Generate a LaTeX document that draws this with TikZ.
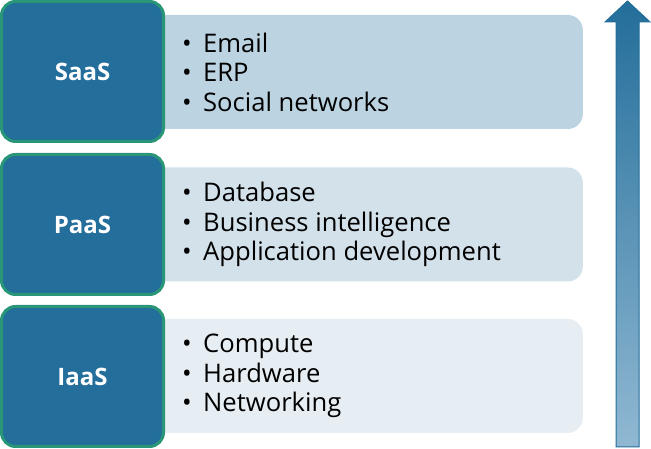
\documentclass[tikz,border=0pt]{standalone}
\usepackage{fontspec}
\setmainfont{Open Sans}
\usepackage{tikz}
\usetikzlibrary{positioning,shapes}
\definecolor{layerblue}{HTML}{236E9A}
\definecolor{layergreen}{HTML}{2A9678}
\definecolor{saasband}{HTML}{BCD3E1}
\definecolor{paasband}{HTML}{D2E1EA}
\definecolor{iaasband}{HTML}{E6EEF3}
\definecolor{arrowtop}{HTML}{236E9A}
\definecolor{arrowmid}{HTML}{3C7FAC}
\definecolor{arrowbottom}{HTML}{90B8D2}
\tikzset {
    style layer/.style={
        fill=layerblue,
        draw=layergreen,
        line width=3pt,
        text=white,
        rectangle, % Set the shape as a rectangle
        rounded corners=14pt,
        minimum width=162pt,
        minimum height=140pt,
        align=center,
        font=\bfseries\fontsize{24}{28}\selectfont,
    },
    style band/.style={
        draw=none,
        rectangle, % Set the shape as a rectangle
        rounded corners=15pt,
        minimum width=433pt,
        minimum height=114pt,
        anchor=east,
    },
    style items/.style={
        anchor=west,
        inner sep=0pt,
        align=left,
        text=black,
        font=\fontsize{25.6}{29.5}\selectfont,
    },
}
\newcommand{\bitem}{\makebox[21pt][l]{\textbullet}}

\begin{document}
\begin{tikzpicture}[x=1pt,y=1pt]
        \useasboundingbox (0,0) rectangle (651,449);

        % light bands behind the layers
        \node[style band, fill=saasband] (saasb) at (583,377) {};
        \node[style band, fill=paasband] (paasb) at (583,224.5) {};
        \node[style band, fill=iaasband] (iaasb) at (583,73) {};

        % layers
        \node[style layer] (saas) at (82.5,377.5) {SaaS};
        \node[style layer] (paas) at (82.5,224.5) {PaaS};
        \node[style layer] (iaas) at (82.5,72.5) {IaaS};

        % items
        \node[style items] (saasi) at (182,377) {\bitem Email\\\bitem ERP\\\bitem Social networks};
        \node[style items] (paasi) at (182,224.5) {\bitem Database\\\bitem Business intelligence\\\bitem Application development};
        \node[style items] (iaasi) at (182,73) {\bitem Compute\\\bitem Hardware\\\bitem Networking};

        % stack arrow
        \path[draw=layerblue, line width=1pt, top color=arrowtop, middle color=arrowmid, bottom color=arrowbottom]
            (616,2) -- (616,427) -- (605,427) -- (627.5,448) -- (650,427) -- (639,427) -- (639,2) -- cycle;

    \end{tikzpicture}
\end{document}
